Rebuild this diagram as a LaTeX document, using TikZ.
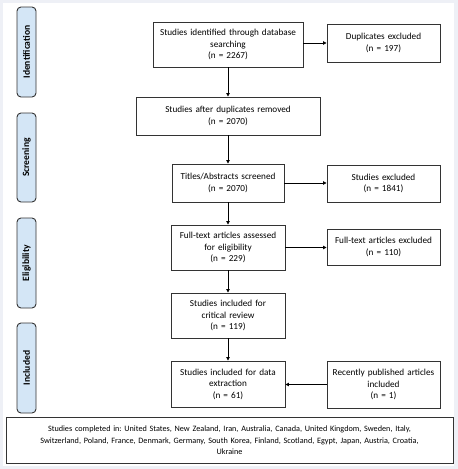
\documentclass[tikz,border=0pt]{standalone}
\usepackage{fontspec}
\setmainfont{Carlito}
\frenchspacing
\usetikzlibrary{arrows.meta}
\definecolor{bgout}{HTML}{EEF0F6}
\definecolor{lblue}{HTML}{D4E6F6}
\definecolor{edge}{HTML}{333333}
\tikzset{
  box/.style={draw=edge, line width=0.9pt, fill=white, align=center, font=\fontsize{9.2}{11.5}\selectfont, inner sep=1pt},
  botbox/.style={draw=edge, line width=0.9pt, fill=white, align=center, font=\fontsize{8.2}{11.5}\selectfont, inner sep=1pt},
  phase/.style={draw=edge, line width=0.9pt, fill=lblue, rounded corners=4pt, font=\bfseries\fontsize{9.6}{10}\selectfont, rotate=90, inner sep=0pt},
  arr/.style={draw=black, line width=0.8pt, -{Triangle[length=3.5pt,width=3.5pt]}}
}
\begin{document}
\begin{tikzpicture}[x=1pt,y=-1pt]
\fill[bgout] (0,0) rectangle (458,469);
\fill[white] (3,3) rectangle (454,466);
\useasboundingbox (0,0) rectangle (458,469);
% phase labels
\node[phase, minimum height=19pt, minimum width=90pt] (pid) at (26.5,52) {Identification};
\node[phase, minimum height=19pt, minimum width=89pt] (psc) at (26.5,157.5) {Screening};
\node[phase, minimum height=19pt, minimum width=90pt] (pel) at (26.5,263) {Eligibility};
\node[phase, minimum height=19pt, minimum width=90pt] (pin) at (26.5,368) {Included};
% main boxes
\node[box, minimum width=150pt, minimum height=45pt, text width=146pt] (b1) at (228,44.5) {Studies identified through database\\searching\\(n = 2267)};
\node[box, minimum width=113pt, minimum height=38pt, text width=108pt] (d1) at (383.5,43) {Duplicates excluded\\(n = 197)};
\node[box, minimum width=184pt, minimum height=38pt, text width=178pt] (b2) at (228,116) {Studies after duplicates removed\\(n = 2070)};
\node[box, minimum width=112pt, minimum height=38pt, text width=108pt] (b3) at (228,183) {Titles/Abstracts screened\\(n = 2070)};
\node[box, minimum width=113pt, minimum height=37pt, text width=108pt] (d3) at (383.5,183.5) {Studies excluded\\(n = 1841)};
\node[box, minimum width=114pt, minimum height=45pt, text width=110pt] (b4) at (228,247.5) {Full-text articles assessed\\for eligibility\\(n = 229)};
\node[box, minimum width=113pt, minimum height=36pt, text width=110pt] (d4) at (383.5,247) {Full-text articles excluded\\(n = 110)};
\node[box, minimum width=114pt, minimum height=45pt, text width=110pt] (b5) at (228,315.5) {Studies included for\\critical review\\(n = 119)};
\node[box, minimum width=114pt, minimum height=46pt, text width=110pt] (b6) at (228,384) {Studies included for data\\extraction\\(n = 61)};
\node[box, minimum width=113pt, minimum height=47pt, text width=110pt] (r6) at (383.5,384.5) {Recently published articles\\included\\(n = 1)};
\node[botbox, minimum width=447pt, minimum height=46pt, text width=440pt] (bot) at (229.5,440.5) {Studies completed in: United States, New Zealand, Iran, Australia, Canada, United Kingdom, Sweden, Italy,\\Switzerland, Poland, France, Denmark, Germany, South Korea, Finland, Scotland, Egypt, Japan, Austria, Croatia,\\Ukraine};
% arrows
\draw[arr] (b1) -- (b2);
\draw[arr] (b2) -- (b3);
\draw[arr] (b3) -- (b4);
\draw[arr] (b4) -- (b5);
\draw[arr] (b5) -- (b6);
\draw[arr] (b1.east |- d1.west) -- (d1.west);
\draw[arr] (b3.east) -- (b3.east -| d3.west);
\draw[arr] (b4.east) -- (b4.east -| d4.west);
\draw[arr] (r6.west) -- (r6.west -| b6.east);
\end{tikzpicture}
\end{document}
